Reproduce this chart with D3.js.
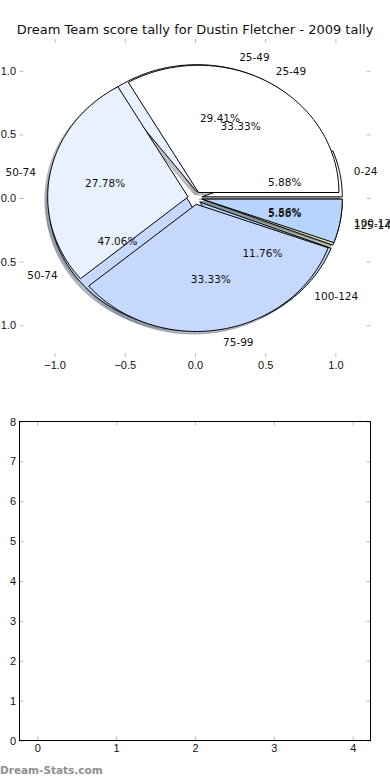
<!DOCTYPE html>
<html>
<head>
<meta charset="utf-8">
<script src="https://cdn.jsdelivr.net/npm/d3@7"></script>
<style>
  body { margin: 0; background: #fff; }
  svg { display: block; font-family: "DejaVu Sans", sans-serif; }
  .tick line { stroke: #bdbdbd; }
  .tick text { fill: #111; font-size: 11px; }
  .domain { display: none; }
</style>
</head>
<body>
<div id="chart"></div>
<script>
// Pie data (two tallies drawn over each other)
const PIE1_LABELS = ["0-24", "25-49", "50-74", "100-124", "125-149"];
const PIE1_VALUES = [1, 5, 8, 2, 1];
const PIE2_LABELS = ["25-49", "50-74", "75-99", "100-124"];
const PIE2_VALUES = [6, 5, 6, 1];
const COLORS = ["#ffffff", "#eaf1fe", "#c6d9fc", "#b6d4fc", "#dde3b3"];
const PIE_TICKS = [-1, -0.5, 0, 0.5, 1];

// Empty lower panel
const BAR_X_TICKS = [0, 1, 2, 3, 4];
const BAR_Y_TICKS = [0, 1, 2, 3, 4, 5, 6, 7, 8];

const width = 390;
const height = 780;
const EXPLODE = 0.05;

const svg = d3.select("#chart")
    .append("svg")
    .attr("width", width)
    .attr("height", height);

// Title
svg.append("text")
    .attr("x", 195)
    .attr("y", 34)
    .attr("text-anchor", "middle")
    .style("font-size", "13px")
    .style("fill", "#111")
    .text("Dream Team score tally for Dustin Fletcher - 2009 tally");

// Pie axes
const xPie = d3.scaleLinear().domain([-1.25, 1.25]).range([19.5, 370.5]);
const yPie = d3.scaleLinear().domain([-1.25, 1.25]).range([357, 39]);

const fmt = v => (v < 0 ? "\u2212" : "") + Math.abs(v).toFixed(1);

svg.append("g")
    .attr("transform", `translate(0, ${yPie.range()[0]})`)
    .call(d3.axisBottom(xPie).tickValues(PIE_TICKS).tickSize(-4).tickPadding(4).tickFormat(fmt));
svg.append("g")
    .attr("transform", `translate(0, ${yPie.range()[1]})`)
    .call(d3.axisTop(xPie).tickValues(PIE_TICKS).tickSize(-4).tickFormat(""));
svg.append("g")
    .attr("transform", `translate(${xPie.range()[0]}, 0)`)
    .call(d3.axisLeft(yPie).tickValues(PIE_TICKS).tickSize(-4).tickPadding(3.5).tickFormat(fmt));
svg.append("g")
    .attr("transform", `translate(${xPie.range()[1]}, 0)`)
    .call(d3.axisRight(yPie).tickValues(PIE_TICKS).tickSize(-4).tickFormat(""));

const pie = d3.pie().sort(null).startAngle(0).endAngle(2 * Math.PI);
const line = d3.line().x(p => xPie(p[0])).y(p => yPie(p[1]));

function wedgePath(cx, cy, a0, a1) {
    const pts = [[cx, cy]];
    const n = Math.max(2, Math.ceil((a1 - a0) / (Math.PI / 180)));
    for (let i = 0; i <= n; i++) {
        const a = a0 + (a1 - a0) * i / n;
        pts.push([cx + Math.cos(a), cy + Math.sin(a)]);
    }
    return line(pts) + "Z";
}

function layout(labels, values) {
    const total = d3.sum(values);
    return pie(values).map((d, i) => {
        const mid = (d.startAngle + d.endAngle) / 2;
        return {
            label: labels[i],
            pct: (100 * values[i] / total).toFixed(2) + "%",
            a0: d.startAngle,
            a1: d.endAngle,
            mid: mid,
            cx: EXPLODE * Math.cos(mid),
            cy: EXPLODE * Math.sin(mid),
            color: COLORS[i % COLORS.length]
        };
    });
}

const pies = [layout(PIE1_LABELS, PIE1_VALUES), layout(PIE2_LABELS, PIE2_VALUES)];

// Shadows first, then wedges, then texts
const shadowGroup = svg.append("g").attr("class", "shadows");
pies.forEach(wedges => {
    shadowGroup.selectAll(null)
        .data(wedges)
      .enter().append("path")
        .attr("d", w => wedgePath(w.cx - 0.02, w.cy - 0.02, w.a0, w.a1))
        .attr("fill", w => d3.rgb(w.color).darker(1.7))
        .attr("fill-opacity", 0.5)
        .attr("stroke", w => d3.rgb(w.color).darker(1.7))
        .attr("stroke-opacity", 0.5)
        .attr("stroke-width", 1);
});

const wedgeGroup = svg.append("g").attr("class", "wedges");
pies.forEach(wedges => {
    wedgeGroup.selectAll(null)
        .data(wedges)
      .enter().append("path")
        .attr("d", w => wedgePath(w.cx, w.cy, w.a0, w.a1))
        .attr("fill", w => w.color)
        .attr("stroke", "#000")
        .attr("stroke-width", 1)
        .attr("stroke-linejoin", "miter");
});

const textGroup = svg.append("g").attr("class", "texts")
    .style("font-size", "10.5px")
    .style("fill", "#111");
pies.forEach(wedges => {
    wedges.forEach(w => {
        const lx = w.cx + 1.1 * Math.cos(w.mid);
        const ly = w.cy + 1.1 * Math.sin(w.mid);
        textGroup.append("text")
            .attr("x", xPie(lx))
            .attr("y", yPie(ly))
            .attr("dy", "0.35em")
            .attr("text-anchor", lx > 0 ? "start" : "end")
            .text(w.label);
        textGroup.append("text")
            .attr("x", xPie(w.cx + 0.6 * Math.cos(w.mid)))
            .attr("y", yPie(w.cy + 0.6 * Math.sin(w.mid)))
            .attr("dy", "0.35em")
            .attr("text-anchor", "middle")
            .text(w.pct);
    });
});

// Lower empty panel
const xBar = d3.scaleLinear().domain([-0.225, 4.225]).range([19.5, 370.5]);
const yBar = d3.scaleLinear().domain([0, 8]).range([740.5, 421.5]);

svg.append("g")
    .attr("transform", `translate(0, ${yBar.range()[0]})`)
    .call(d3.axisBottom(xBar).tickValues(BAR_X_TICKS).tickSize(-4).tickPadding(4).tickFormat(d3.format("d")));
svg.append("g")
    .attr("transform", `translate(0, ${yBar.range()[1]})`)
    .call(d3.axisTop(xBar).tickValues(BAR_X_TICKS).tickSize(-4).tickFormat(""));
svg.append("g")
    .attr("transform", `translate(${xBar.range()[0]}, 0)`)
    .call(d3.axisLeft(yBar).tickValues(BAR_Y_TICKS).tickSize(-4).tickPadding(3.5).tickFormat(d3.format("d")));
svg.append("g")
    .attr("transform", `translate(${xBar.range()[1]}, 0)`)
    .call(d3.axisRight(yBar).tickValues(BAR_Y_TICKS).tickSize(-4).tickFormat(""));

svg.append("rect")
    .attr("x", xBar.range()[0])
    .attr("y", yBar.range()[1])
    .attr("width", xBar.range()[1] - xBar.range()[0])
    .attr("height", yBar.range()[0] - yBar.range()[1])
    .attr("fill", "none")
    .attr("stroke", "#000")
    .attr("stroke-width", 1);

// Watermark
svg.append("text")
    .attr("x", 0)
    .attr("y", 774)
    .style("font-size", "10.5px")
    .style("font-weight", "bold")
    .style("fill", "#8f8f8f")
    .text("Dream-Stats.com");
</script>
</body>
</html>
